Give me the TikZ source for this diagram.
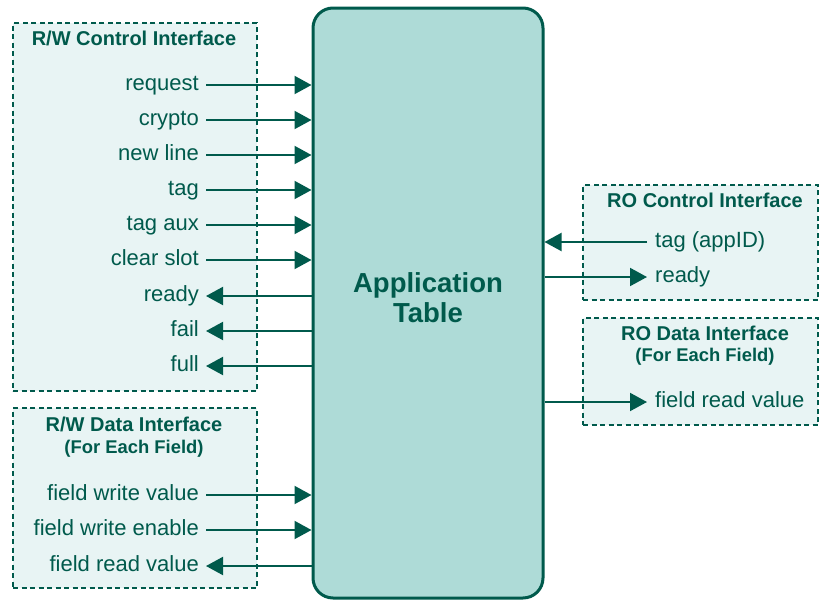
\documentclass[tikz,border=0pt]{standalone}
\usepackage{fontspec}
\setmainfont{Liberation Sans}
\usetikzlibrary{arrows.meta,positioning}
\definecolor{tabgreen}{HTML}{005A4C}
\definecolor{tabfill}{HTML}{AEDBD7}
\definecolor{ifill}{HTML}{E8F4F4}

\begin{document}
\begin{tikzpicture}[x=1pt,y=-1pt,
    iface/.style={draw=tabgreen,fill=ifill,line width=1.5pt,dash pattern=on 5pt off 3.5pt,inner sep=0pt},
    ititle/.style={text=tabgreen,inner sep=0pt,font=\fontsize{20}{24}\selectfont\bfseries},
    isub/.style={text=tabgreen,inner sep=0pt,font=\fontsize{18.4}{22}\selectfont\bfseries},
    sig/.style={text=tabgreen,inner sep=0pt,text height=16pt,text depth=5pt,font=\fontsize{22}{26}\selectfont},
    apptab/.style={draw=tabgreen,fill=tabfill,line width=3pt,rounded corners=20pt,
        minimum width=230pt,minimum height=590pt},
    apptitle/.style={align=center,text=tabgreen,font=\fontsize{27.5}{30}\selectfont\bfseries},
    wire/.style={draw=tabgreen,line width=2pt,-{Triangle[length=17pt,width=18pt]}}]
    \useasboundingbox (0,0) rectangle (820,600);

    % interface groups
    \node[iface,minimum width=244pt,minimum height=368pt] (rwctl) at (135,207) {};
    \node[iface,minimum width=244pt,minimum height=180pt] (rwdat) at (135,498) {};
    \node[iface,minimum width=235pt,minimum height=115pt] (roctl) at (700.5,242.5) {};
    \node[iface,minimum width=235pt,minimum height=107pt] (rodat) at (700.5,371.5) {};

    \node[ititle] (rwctlt) at (134,38) {R/W Control Interface};
    \node[ititle] (rwdatt) at (134,424) {R/W Data Interface};
    \node[isub]   (rwdats) at (134,449) {(For Each Field)};
    \node[ititle] (roctlt) at (705,200) {RO Control Interface};
    \node[ititle] (rodatt) at (705,333) {RO Data Interface};
    \node[isub]   (rodats) at (705,357) {(For Each Field)};

    % the table itself
    \node[apptab] (app) at (428,303) {};
    \node[apptitle] (apptxt) at ([yshift=5pt]app.center) {Application\\Table};

    % R/W control signals
    \node[sig,anchor=east] (req)   at (199,85)  {request};
    \node[sig,anchor=east] (cry)   at (199,120) {crypto};
    \node[sig,anchor=east] (nline) at (199,155) {new line};
    \node[sig,anchor=east] (tagi)  at (199,190) {tag};
    \node[sig,anchor=east] (taux)  at (199,225) {tag aux};
    \node[sig,anchor=east] (clr)   at (199,260) {clear slot};
    \node[sig,anchor=east] (rdy)   at (199,296) {ready};
    \node[sig,anchor=east] (fail)  at (199,331) {fail};
    \node[sig,anchor=east] (full)  at (199,366) {full};

    % R/W data signals
    \node[sig,anchor=east] (fwv) at (199,495) {field write value};
    \node[sig,anchor=east] (fwe) at (199,530) {field write enable};
    \node[sig,anchor=east] (frv) at (199,566) {field read value};

    % RO signals
    \node[sig,anchor=west] (tapp) at (655,242) {tag (appID)};
    \node[sig,anchor=west] (rdyo) at (655,277) {ready};
    \node[sig,anchor=west] (frvo) at (655,402) {field read value};

    \draw[wire,shorten <=7pt] (req.east)   -- (app.west |- req.east);
    \draw[wire,shorten <=7pt] (cry.east)   -- (app.west |- cry.east);
    \draw[wire,shorten <=7pt] (nline.east) -- (app.west |- nline.east);
    \draw[wire,shorten <=7pt] (tagi.east)  -- (app.west |- tagi.east);
    \draw[wire,shorten <=7pt] (taux.east)  -- (app.west |- taux.east);
    \draw[wire,shorten <=7pt] (clr.east)   -- (app.west |- clr.east);
    \draw[wire,shorten >=7pt] (app.west |- rdy.east)  -- (rdy.east);
    \draw[wire,shorten >=7pt] (app.west |- fail.east) -- (fail.east);
    \draw[wire,shorten >=7pt] (app.west |- full.east) -- (full.east);

    \draw[wire,shorten <=7pt] (fwv.east) -- (app.west |- fwv.east);
    \draw[wire,shorten <=7pt] (fwe.east) -- (app.west |- fwe.east);
    \draw[wire,shorten >=7pt] (app.west |- frv.east) -- (frv.east);

    \draw[wire,shorten <=8pt] (tapp.west) -- (app.east |- tapp.west);
    \draw[wire,shorten >=8pt] (app.east |- rdyo.west) -- (rdyo.west);
    \draw[wire,shorten >=8pt] (app.east |- frvo.west) -- (frvo.west);
\end{tikzpicture}
\end{document}
